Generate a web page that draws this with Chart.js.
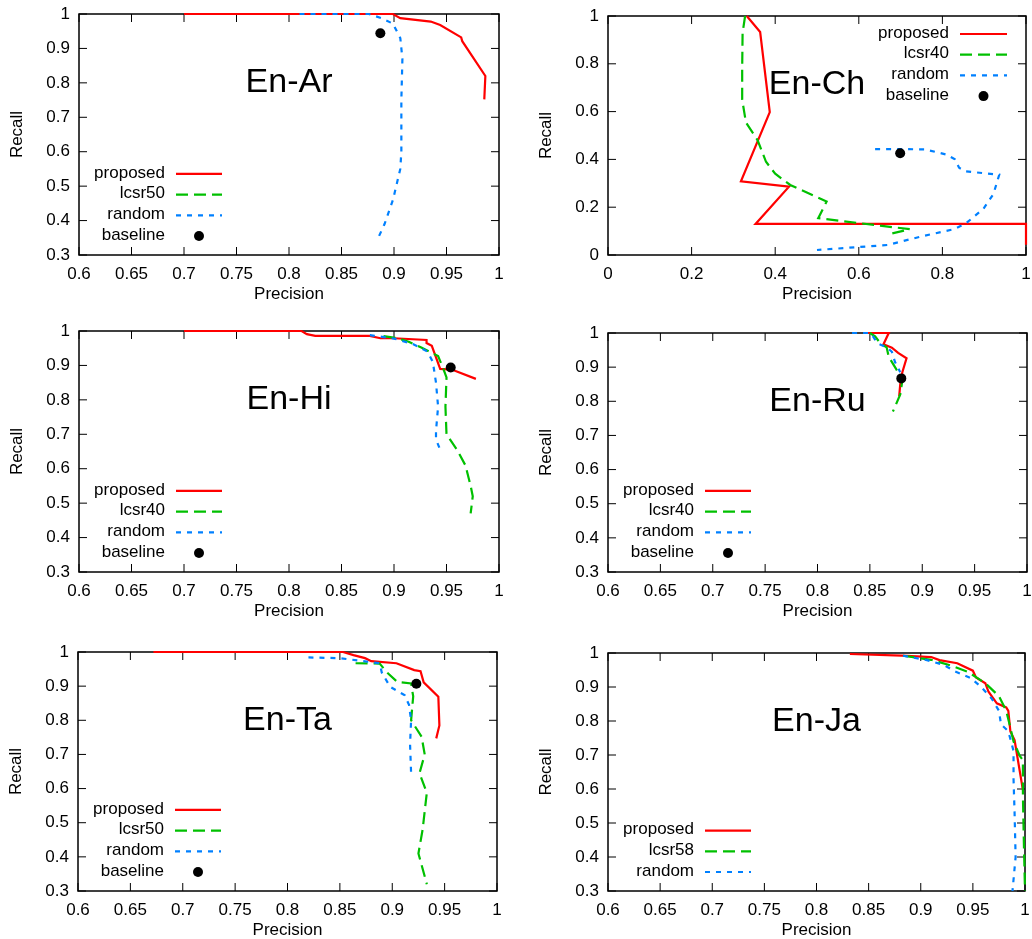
<!DOCTYPE html>
<html>
<head>
<meta charset="utf-8">
<script src="https://cdn.jsdelivr.net/npm/chart.js@4.4.0/dist/chart.umd.min.js"></script>
<style>
  html, body { margin: 0; padding: 0; background: #fff; }
  body { width: 1032px; height: 939px; position: relative; overflow: hidden; }
  canvas { position: absolute; }
</style>
</head>
<body>
<script>
// tick labels
var precisionTicks = [0.6, 0.65, 0.7, 0.75, 0.8, 0.85, 0.9, 0.95, 1];
var recallTicks = [0.3, 0.4, 0.5, 0.6, 0.7, 0.8, 0.9, 1];
var precisionTicksCh = [0, 0.2, 0.4, 0.6, 0.8, 1];
var recallTicksCh = [0, 0.2, 0.4, 0.6, 0.8, 1];

// En-Ar  [precision, recall]
var arProposed = [[0.70, 1.0], [0.899, 1.0], [0.906, 0.988], [0.935, 0.978], [0.944, 0.968], [0.964, 0.932], [0.965, 0.921], [0.987, 0.82], [0.986, 0.752]];
var arLcsr50 = [];
var arRandom = [[0.81, 1.0], [0.876, 1.0], [0.888, 0.988], [0.899, 0.972], [0.906, 0.93], [0.908, 0.87], [0.907, 0.75], [0.907, 0.6], [0.906, 0.55], [0.899, 0.46], [0.891, 0.39], [0.885, 0.35]];
var arBaseline = [[0.887, 0.944]];

// En-Ch
var chProposed = [[0.332, 1.0], [0.364, 0.933], [0.387, 0.598], [0.318, 0.308], [0.433, 0.286], [0.353, 0.13], [1.0, 0.13], [1.0, 0.043]];
var chLcsr40 = [[0.328, 1.0], [0.322, 0.93], [0.321, 0.78], [0.321, 0.65], [0.33, 0.555], [0.358, 0.48], [0.378, 0.39], [0.40, 0.34], [0.436, 0.293], [0.523, 0.224], [0.503, 0.154], [0.555, 0.143], [0.64, 0.125], [0.722, 0.108], [0.669, 0.086]];
var chRandom = [[0.639, 0.443], [0.70, 0.443], [0.758, 0.442], [0.81, 0.42], [0.83, 0.40], [0.84, 0.365], [0.856, 0.35], [0.936, 0.336], [0.922, 0.255], [0.898, 0.193], [0.856, 0.132], [0.828, 0.108], [0.75, 0.078], [0.67, 0.042], [0.59, 0.032], [0.50, 0.021]];
var chBaseline = [[0.699, 0.426]];

// En-Hi
var hiProposed = [[0.70, 1.0], [0.812, 1.0], [0.817, 0.991], [0.825, 0.986], [0.877, 0.986], [0.887, 0.979], [0.90, 0.979], [0.931, 0.974], [0.931, 0.965], [0.936, 0.957], [0.944, 0.89], [0.955, 0.888], [0.978, 0.861]];
var hiLcsr40 = [[0.89, 0.985], [0.903, 0.979], [0.914, 0.969], [0.926, 0.952], [0.942, 0.927], [0.947, 0.89], [0.95, 0.865], [0.949, 0.78], [0.95, 0.70], [0.96, 0.655], [0.968, 0.61], [0.973, 0.55], [0.975, 0.52], [0.973, 0.47]];
var hiRandom = [[0.877, 0.988], [0.90, 0.978], [0.918, 0.962], [0.932, 0.94], [0.937, 0.91], [0.94, 0.85], [0.942, 0.78], [0.94, 0.71], [0.94, 0.685], [0.944, 0.655]];
var hiBaseline = [[0.954, 0.894]];

// En-Ru
var ruProposed = [[0.845, 1.0], [0.868, 1.0], [0.863, 0.967], [0.871, 0.957], [0.877, 0.942], [0.885, 0.926], [0.881, 0.885], [0.879, 0.85], [0.878, 0.815]];
var ruLcsr40 = [[0.85, 1.0], [0.855, 0.99], [0.86, 0.97], [0.866, 0.958], [0.868, 0.93], [0.875, 0.895], [0.881, 0.86], [0.879, 0.82], [0.872, 0.77]];
var ruRandom = [[0.833, 1.0], [0.85, 1.0], [0.853, 0.99], [0.857, 0.97], [0.866, 0.958], [0.871, 0.945], [0.874, 0.915], [0.879, 0.885]];
var ruBaseline = [[0.88, 0.867]];

// En-Ta
var taProposed = [[0.672, 1.0], [0.853, 1.0], [0.863, 0.991], [0.874, 0.982], [0.88, 0.973], [0.904, 0.967], [0.921, 0.947], [0.927, 0.944], [0.93, 0.911], [0.944, 0.869], [0.945, 0.785], [0.942, 0.747]];
var taLcsr50 = [[0.865, 0.967], [0.888, 0.966], [0.895, 0.94], [0.905, 0.912], [0.918, 0.908], [0.92, 0.87], [0.918, 0.80], [0.928, 0.752], [0.931, 0.70], [0.926, 0.645], [0.933, 0.588], [0.929, 0.48], [0.925, 0.41], [0.933, 0.32]];
var taRandom = [[0.82, 0.984], [0.85, 0.982], [0.868, 0.975], [0.888, 0.967], [0.89, 0.94], [0.898, 0.898], [0.912, 0.873], [0.916, 0.845], [0.918, 0.80], [0.917, 0.73], [0.918, 0.645]];
var taBaseline = [[0.923, 0.907]];

// En-Ja
var jaProposed = [[0.832, 0.997], [0.882, 0.992], [0.91, 0.988], [0.918, 0.979], [0.935, 0.97], [0.95, 0.948], [0.953, 0.928], [0.962, 0.911], [0.965, 0.886], [0.973, 0.852], [0.982, 0.84], [0.984, 0.83], [0.986, 0.769], [0.99, 0.744], [0.998, 0.597]];
var jaLcsr58 = [[0.883, 0.992], [0.91, 0.98], [0.93, 0.962], [0.945, 0.945], [0.962, 0.911], [0.975, 0.873], [0.982, 0.83], [0.986, 0.78], [0.989, 0.74], [0.995, 0.697], [0.998, 0.685], [0.998, 0.58], [0.999, 0.43], [1.0, 0.30]];
var jaRandom = [[0.883, 0.992], [0.906, 0.979], [0.922, 0.965], [0.933, 0.946], [0.948, 0.926], [0.958, 0.9], [0.968, 0.866], [0.975, 0.83], [0.977, 0.79], [0.984, 0.77], [0.989, 0.712], [0.989, 0.63], [0.99, 0.53], [0.991, 0.40], [0.988, 0.30]];

var FONT = '"Liberation Sans", Arial, Helvetica, sans-serif';
Chart.defaults.font.family = FONT;
Chart.defaults.color = '#000';

// plot area of each panel on the page: left, top, right, bottom
var panels = [
    { title: 'En-Ar', lcsr: 'lcsr50', proposed: arProposed, lcsrData: arLcsr50, random: arRandom, baseline: arBaseline,
      xTicks: precisionTicks, yTicks: recallTicks, key: 'bottom-left', area: [79, 14, 499, 255] },
    { title: 'En-Ch', lcsr: 'lcsr40', proposed: chProposed, lcsrData: chLcsr40, random: chRandom, baseline: chBaseline,
      xTicks: precisionTicksCh, yTicks: recallTicksCh, key: 'top-right', area: [608, 16, 1026, 255] },
    { title: 'En-Hi', lcsr: 'lcsr40', proposed: hiProposed, lcsrData: hiLcsr40, random: hiRandom, baseline: hiBaseline,
      xTicks: precisionTicks, yTicks: recallTicks, key: 'bottom-left', area: [79, 331, 499, 572] },
    { title: 'En-Ru', lcsr: 'lcsr40', proposed: ruProposed, lcsrData: ruLcsr40, random: ruRandom, baseline: ruBaseline,
      xTicks: precisionTicks, yTicks: recallTicks, key: 'bottom-left', area: [608, 333, 1027, 572] },
    { title: 'En-Ta', lcsr: 'lcsr50', proposed: taProposed, lcsrData: taLcsr50, random: taRandom, baseline: taBaseline,
      xTicks: precisionTicks, yTicks: recallTicks, key: 'bottom-left', area: [78, 652, 497, 891] },
    { title: 'En-Ja', lcsr: 'lcsr58', proposed: jaProposed, lcsrData: jaLcsr58, random: jaRandom, baseline: null,
      xTicks: precisionTicks, yTicks: recallTicks, key: 'bottom-left', area: [608, 653, 1025, 891] }
];

var Y_AXIS_W = 72, X_AXIS_H = 52, TICK_LEN = 8, KEY_ROW = 20.7;
var PAD = { left: 7, top: 30, right: 30, bottom: 8 };

function toXY(list) {
    return list.map(function (p) { return { x: p[0], y: p[1] }; });
}

// gnuplot style frame with inward tick marks, title and key
var framePlugin = {
    id: 'frame',
    beforeDatasetsDraw: function (chart) {
        var ctx = chart.ctx, a = chart.chartArea;
        var x = chart.scales.x, y = chart.scales.y;
        ctx.save();
        ctx.strokeStyle = '#000';
        ctx.lineWidth = 1;
        ctx.beginPath();
        x.ticks.forEach(function (t) {
            var px = x.getPixelForValue(t.value);
            ctx.moveTo(px, a.bottom); ctx.lineTo(px, a.bottom - TICK_LEN);
            ctx.moveTo(px, a.top); ctx.lineTo(px, a.top + TICK_LEN);
        });
        y.ticks.forEach(function (t) {
            var py = y.getPixelForValue(t.value);
            ctx.moveTo(a.left, py); ctx.lineTo(a.left + TICK_LEN, py);
            ctx.moveTo(a.right, py); ctx.lineTo(a.right - TICK_LEN, py);
        });
        ctx.stroke();
        ctx.lineWidth = 1.5;
        ctx.strokeRect(a.left, a.top, a.right - a.left, a.bottom - a.top);
        ctx.restore();
    },
    afterDatasetsDraw: function (chart, args, opts) {
        var ctx = chart.ctx, a = chart.chartArea;
        var sets = chart.data.datasets, n = sets.length;
        ctx.save();
        ctx.fillStyle = '#000';
        ctx.textAlign = 'center';
        ctx.textBaseline = 'middle';
        ctx.font = '34px ' + FONT;
        ctx.fillText(opts.title, (a.left + a.right) / 2, a.top + 68.5);

        ctx.font = '17px ' + FONT;
        ctx.textAlign = 'right';
        sets.forEach(function (ds, i) {
            var textRight, x0, x1, yRow;
            if (opts.key === 'top-right') {
                textRight = a.right - 77; x0 = a.right - 66; x1 = a.right - 19;
                yRow = a.top + 18 + KEY_ROW * i;
            } else {
                textRight = a.left + 86; x0 = a.left + 97; x1 = a.left + 143;
                yRow = a.bottom - 19 - KEY_ROW * (n - 1 - i);
            }
            ctx.fillStyle = '#000';
            ctx.fillText(ds.label, textRight, yRow - 1);
            if (ds.showLine) {
                ctx.strokeStyle = ds.borderColor;
                ctx.lineWidth = ds.borderWidth;
                ctx.setLineDash(ds.borderDash || []);
                ctx.beginPath();
                ctx.moveTo(x0, yRow);
                ctx.lineTo(x1, yRow);
                ctx.stroke();
                ctx.setLineDash([]);
            } else {
                ctx.beginPath();
                ctx.arc((x0 + x1) / 2, yRow, ds.pointRadius, 0, Math.PI * 2);
                ctx.fill();
            }
        });
        ctx.restore();
    }
};

function axis(ticks, title, isX) {
    return {
        type: 'linear',
        min: ticks[0],
        max: ticks[ticks.length - 1],
        afterBuildTicks: function (scale) {
            scale.ticks = ticks.map(function (v) { return { value: v }; });
        },
        afterFit: function (scale) {
            if (isX) scale.height = X_AXIS_H; else scale.width = Y_AXIS_W;
        },
        grid: { display: false, drawTicks: false },
        border: { display: false },
        ticks: {
            padding: 9,
            autoSkip: false,
            maxRotation: 0,
            color: '#000',
            font: { size: 17 },
            callback: function (v) { return String(v); }
        },
        title: {
            display: true,
            text: title,
            color: '#000',
            font: { size: 17 },
            padding: isX ? { top: 0, bottom: 2 } : { top: 0, bottom: 0 }
        }
    };
}

panels.forEach(function (p) {
    var L = p.area[0], T = p.area[1], R = p.area[2], B = p.area[3];
    var left = L - Y_AXIS_W - PAD.left, top = T - PAD.top;
    var w = (R + PAD.right) - left, h = (B + X_AXIS_H + PAD.bottom) - top;
    var canvas = document.createElement('canvas');
    canvas.width = w; canvas.height = h;
    canvas.style.left = left + 'px'; canvas.style.top = top + 'px';
    canvas.style.width = w + 'px'; canvas.style.height = h + 'px';
    document.body.appendChild(canvas);

    // clip: 3 so curves lying on the frame (recall = 1, precision = 1) keep their full width
    var datasets = [
        { label: 'proposed', data: toXY(p.proposed), showLine: true, borderColor: '#ff0000', borderWidth: 2.2, pointRadius: 0, order: 4, clip: 3 },
        { label: p.lcsr, data: toXY(p.lcsrData), showLine: true, borderColor: '#00c000', borderWidth: 2.2, borderDash: [12, 6], pointRadius: 0, order: 3, clip: 3 },
        { label: 'random', data: toXY(p.random), showLine: true, borderColor: '#0080ff', borderWidth: 2.2, borderDash: [5, 6], pointRadius: 0, order: 2, clip: 3 }
    ];
    if (p.baseline) {
        datasets.push({ label: 'baseline', data: toXY(p.baseline), showLine: false, pointRadius: 5,
            backgroundColor: '#000', borderColor: '#000', pointBorderWidth: 0, order: 1, clip: 6 });
    }

    new Chart(canvas.getContext('2d'), {
        type: 'scatter',
        data: { datasets: datasets },
        options: {
            responsive: false,
            animation: false,
            devicePixelRatio: 1,
            events: [],
            layout: { padding: { left: PAD.left, top: PAD.top, right: PAD.right, bottom: PAD.bottom } },
            elements: { line: { tension: 0 } },
            scales: {
                x: axis(p.xTicks, 'Precision', true),
                y: axis(p.yTicks, 'Recall', false)
            },
            plugins: {
                legend: { display: false },
                tooltip: { enabled: false },
                frame: { title: p.title, key: p.key }
            }
        },
        plugins: [framePlugin]
    });
});
</script>
</body>
</html>
